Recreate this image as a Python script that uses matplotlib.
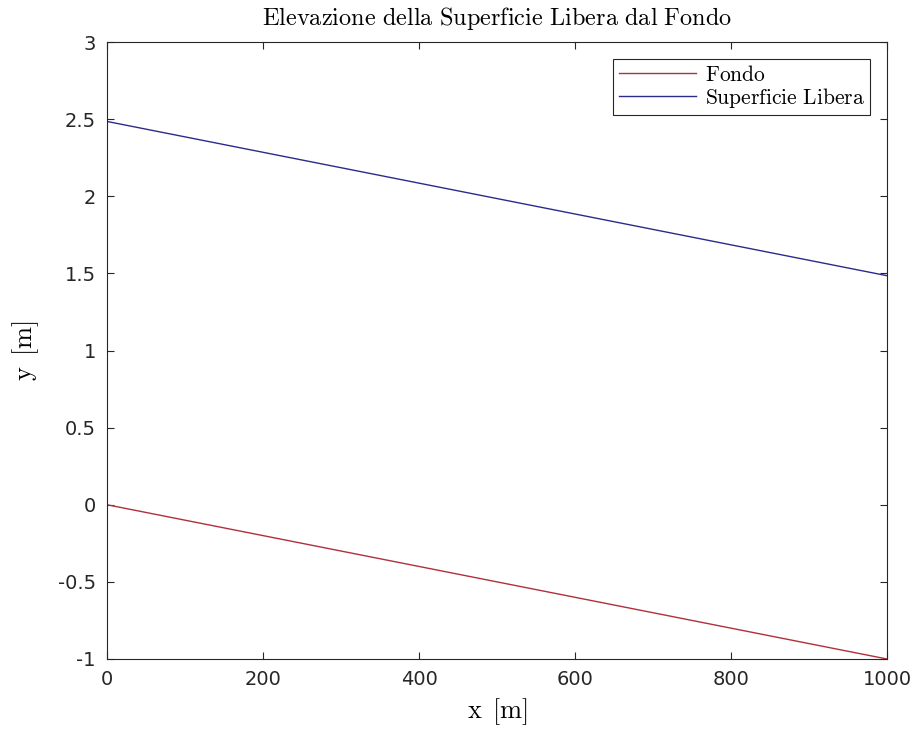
import matplotlib
matplotlib.use("Agg")
import matplotlib.pyplot as plt

x_m = [0, 100, 200, 300, 400, 500, 600, 700, 800, 900, 1000]
fondo = [0.0, -0.1, -0.2, -0.3, -0.4, -0.5, -0.6, -0.7, -0.8, -0.9, -1.0]
superficie = [2.485, 2.385, 2.285, 2.185, 2.085, 1.985, 1.885, 1.785, 1.685, 1.585, 1.485]
xticks = [0, 200, 400, 600, 800, 1000]
yticks = [-1, -0.5, 0, 0.5, 1, 1.5, 2, 2.5, 3]
yticklabels = ["-1", "-0.5", "0", "0.5", "1", "1.5", "2", "2.5", "3"]

plt.rcParams['mathtext.fontset'] = 'cm'
plt.rcParams['font.family'] = ['DejaVu Sans']

fig = plt.figure(figsize=(9.21, 7.29), dpi=100)
ax = fig.add_axes([107/921, 1-659/729, (887-107)/921, (659-42)/729])

ax.plot(x_m, fondo, color='#b0303a', lw=1.0, label=r'$\mathrm{Fondo}$')
ax.plot(x_m, superficie, color='#2b2b8c', lw=1.0, label=r'$\mathrm{Superficie\ Libera}$')

ax.set_xlim(0, 1000)
ax.set_ylim(-1, 3)
ax.set_xticks(xticks)
ax.set_yticks(yticks)
ax.set_yticklabels(yticklabels)
ax.tick_params(direction='in', top=True, right=True, labelsize=14, colors='#262626',
               length=5, width=0.8, pad=8)
for s in ax.spines.values():
    s.set_color('#262626')
    s.set_linewidth(0.8)

ax.set_title(r'$\mathrm{Elevazione\ della\ Superficie\ Libera\ dal\ Fondo}$', fontsize=17.5, pad=12)
ax.set_xlabel(r'$\mathrm{x\ \,[m]}$', fontsize=19, labelpad=5)
ax.set_ylabel(r'$\mathrm{y\ \,[m]}$', fontsize=19, labelpad=12)

leg = ax.legend(loc='upper right', fontsize=15.5, fancybox=False, framealpha=1,
                edgecolor='#262626', handlelength=3.6, borderaxespad=0.8,
                borderpad=0.25, labelspacing=0.05, handletextpad=0.4,
                handleheight=0.6)
leg.get_frame().set_linewidth(0.8)

fig.savefig('out.png', dpi=100, facecolor='white')
